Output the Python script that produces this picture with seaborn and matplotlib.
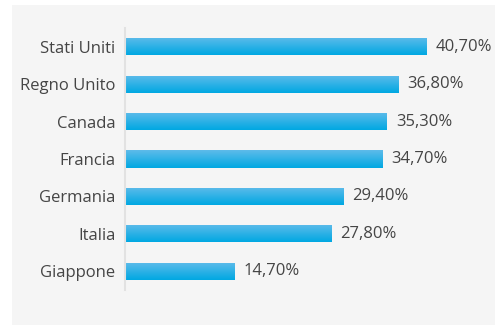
import matplotlib
matplotlib.use("Agg")
import matplotlib.pyplot as plt
import seaborn as sns
import numpy as np
import pandas as pd
from matplotlib.patches import Rectangle
from matplotlib.colors import LinearSegmentedColormap

countries = ["Stati Uniti", "Regno Unito", "Canada", "Francia", "Germania", "Italia", "Giappone"]
values = [40.7, 36.8, 35.3, 34.7, 29.4, 27.8, 14.7]
value_labels = ["40,70%", "36,80%", "35,30%", "34,70%", "29,40%", "27,80%", "14,70%"]

df = pd.DataFrame({"country": countries, "value": values})

sns.set_theme(style="white")
plt.rcParams['font.family'] = ['Open Sans', 'DejaVu Sans']

fig = plt.figure(figsize=(4.95, 3.25), dpi=100, facecolor="white")
bg = Rectangle((12 / 495, 0.5 / 325), 1 - 12 / 495, (320 - 0.5) / 325,
               transform=fig.transFigure, facecolor="#f5f5f5",
               edgecolor="none", zorder=-10)
fig.patches.append(bg)

ax = fig.add_axes([125 / 495, 1 - 290 / 325, (490 - 125) / 495, (290 - 28) / 325])
ax.set_facecolor("none")
ax.set_zorder(5)

sns.barplot(data=df, y="country", x="value", orient="h", ax=ax,
            color="#2fb0e6", width=0.46, saturation=1, edgecolor="none")

ax.set_xlim(0, 49.2)
ax.set_ylim(6.5, -0.5)

cmap = LinearSegmentedColormap.from_list("g", ["#5ebbea", "#00a8e2"])
grad = np.linspace(0, 1, 64).reshape(-1, 1)
for patch in list(ax.patches):
    x0, y0 = patch.get_x(), patch.get_y()
    w, h = patch.get_width(), patch.get_height()
    im = ax.imshow(grad, cmap=cmap, aspect="auto", extent=(x0, x0 + w, y0 + h, y0),
                   origin="upper", zorder=patch.get_zorder() + 0.1, interpolation="bilinear")
    im.set_clip_path(patch)
    patch.set_facecolor("none")

ax.set_xlim(0, 49.2)
ax.set_ylim(6.5, -0.5)
ax.set_aspect("auto")

for i, (v, lab) in enumerate(zip(values, value_labels)):
    ax.annotate(lab, xy=(v, i), xytext=(6.5, 0), textcoords="offset points",
                va="center", ha="left", fontsize=12, color="#454545")

ax.set_xlabel("")
ax.set_ylabel("")
ax.set_xticks([])
ax.tick_params(axis="y", length=0, pad=7, labelsize=12, labelcolor="#454545")
for s in ["top", "right", "bottom"]:
    ax.spines[s].set_visible(False)
ax.spines["left"].set_color("#e2e2e2")
ax.spines["left"].set_linewidth(1.5)

fig.savefig("out.png", dpi=100, facecolor="white")
